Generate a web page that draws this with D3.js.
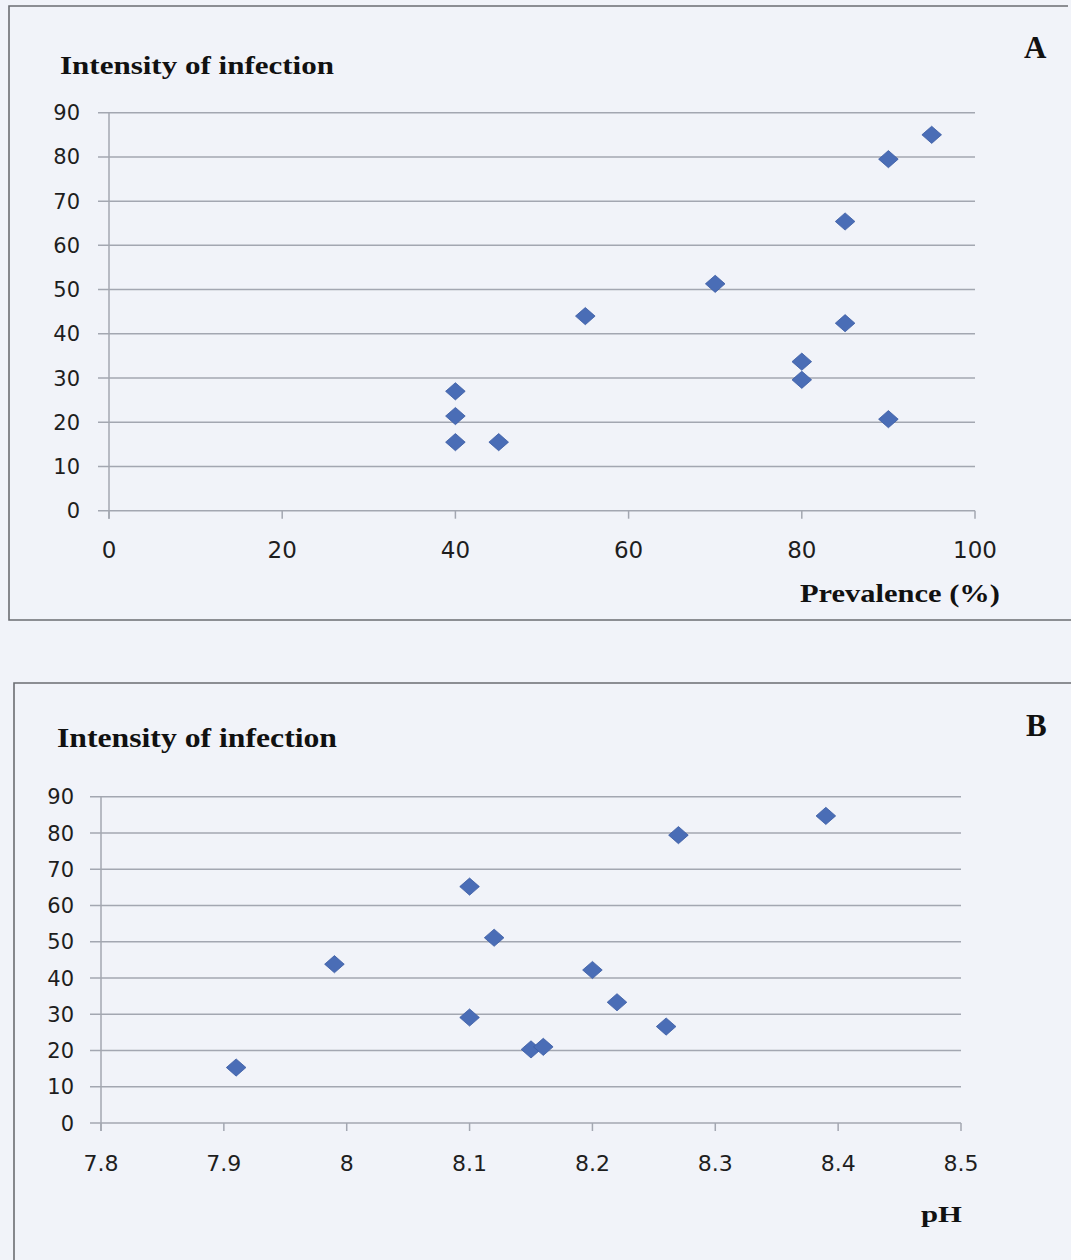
<!DOCTYPE html>
<html>
<head>
<meta charset="utf-8">
<script src="https://cdn.jsdelivr.net/npm/d3@7"></script>
<style>
  html, body { margin: 0; padding: 0; background: #f1f3f9; }
  svg { display: block; }
</style>
</head>
<body>
<svg id="chart" width="1071" height="1260"></svg>
<script>
// ---------- DATA ----------
const prevalence = [40, 40, 40, 45, 55, 70, 80, 80, 85, 85, 90, 90, 95];
const intensityA = [27, 21.4, 15.5, 15.5, 44, 51.3, 33.7, 29.6, 42.4, 65.4, 20.7, 79.5, 85];

const pH = [7.91, 7.99, 8.10, 8.10, 8.12, 8.15, 8.16, 8.20, 8.22, 8.26, 8.27, 8.39];
const intensityB = [15.3, 43.8, 65.2, 29.1, 51.1, 20.3, 21.0, 42.2, 33.3, 26.6, 79.4, 84.7];

const yTicks = [0, 10, 20, 30, 40, 50, 60, 70, 80, 90];
const xTicksA = [0, 20, 40, 60, 80, 100];
const xTicksB = [7.8, 7.9, 8.0, 8.1, 8.2, 8.3, 8.4, 8.5];

const yTitle = "Intensity of infection";
const xTitleA = "Prevalence (%)";
const xTitleB = "pH";
const panelA = "A";
const panelB = "B";

// ---------- STYLE ----------
const gridColor = "#a3a7b1";
const frameColor = "#6b6d72";
const markFill = "#4a6db6";
const markStroke = "#3b5ca3";
const tickFont = "'DejaVu Sans', Verdana, sans-serif";
const serif = "'Liberation Serif', 'Times New Roman', serif";

const svg = d3.select("#chart");

// diamond symbol slightly wider than tall
const diamond = {
  draw(ctx, size) {
    const w = 9.8, h = 8.6;
    ctx.moveTo(0, -h);
    ctx.lineTo(w, 0);
    ctx.lineTo(0, h);
    ctx.lineTo(-w, 0);
    ctx.closePath();
  }
};

function drawPanel(cfg) {
  const g = svg.append("g");
  g.append("path")
    .attr("d", cfg.frame.d)
    .attr("fill", "none")
    .attr("stroke", frameColor)
    .attr("stroke-width", 1.6);

  const x = d3.scaleLinear().domain(cfg.xDomain).range([cfg.left, cfg.right]);
  const y = d3.scaleLinear().domain([0, 90]).range([cfg.bottom, cfg.top]);

  // horizontal gridlines (with outside tick part)
  g.append("g").selectAll("line").data(cfg.yTicks).join("line")
    .attr("x1", cfg.left - 11).attr("x2", cfg.right)
    .attr("y1", d => y(d)).attr("y2", d => y(d))
    .attr("stroke", gridColor).attr("stroke-width", 1.5);

  // vertical axis line
  g.append("line")
    .attr("x1", cfg.left).attr("x2", cfg.left)
    .attr("y1", cfg.top).attr("y2", cfg.bottom + 8)
    .attr("stroke", gridColor).attr("stroke-width", 1.5);

  // x ticks
  g.append("g").selectAll("line").data(cfg.xTicks).join("line")
    .attr("x1", d => x(d)).attr("x2", d => x(d))
    .attr("y1", cfg.bottom).attr("y2", cfg.bottom + 8)
    .attr("stroke", gridColor).attr("stroke-width", 1.5);

  // y tick labels
  g.append("g").selectAll("text").data(cfg.yTicks).join("text")
    .attr("x", cfg.yLabelX)
    .attr("y", d => y(d))
    .attr("dy", "0.36em")
    .attr("text-anchor", "end")
    .attr("font-family", tickFont)
    .attr("font-size", 21)
    .attr("fill", "#1e1e1e")
    .text(d => d);

  // x tick labels
  g.append("g").selectAll("text").data(cfg.xTicks).join("text")
    .attr("x", d => x(d))
    .attr("y", cfg.xLabelY)
    .attr("text-anchor", "middle")
    .attr("font-family", tickFont)
    .attr("font-size", cfg.xLabelSize)
    .attr("fill", "#1e1e1e")
    .text(d => cfg.xFormat(d));

  // points
  g.append("g").selectAll("path").data(cfg.xs.map((v, i) => [v, cfg.ys[i]])).join("path")
    .attr("transform", d => `translate(${x(d[0])},${y(d[1])})`)
    .attr("d", d3.symbol().type(diamond).size(100))
    .attr("fill", markFill)
    .attr("stroke", markStroke)
    .attr("stroke-width", 0.8);

  // titles
  g.append("text")
    .attr("x", cfg.yTitle.x).attr("y", cfg.yTitle.y)
    .attr("font-family", serif).attr("font-weight", "bold")
    .attr("font-size", cfg.yTitle.size)
    .attr("textLength", cfg.yTitle.len).attr("lengthAdjust", "spacingAndGlyphs")
    .attr("fill", "#111")
    .text(yTitle);

  g.append("text")
    .attr("x", cfg.xTitle.x).attr("y", cfg.xTitle.y)
    .attr("font-family", serif).attr("font-weight", "bold")
    .attr("font-size", cfg.xTitle.size)
    .attr("textLength", cfg.xTitle.len).attr("lengthAdjust", "spacingAndGlyphs")
    .attr("fill", "#111")
    .text(cfg.xTitle.text);

  g.append("text")
    .attr("x", cfg.panel.x).attr("y", cfg.panel.y)
    .attr("font-family", serif).attr("font-weight", "bold")
    .attr("font-size", 31)
    .attr("fill", "#111")
    .text(cfg.panel.text);
}

drawPanel({
  frame: { d: "M1068,6 L9,6 L9,620 L1071,620" },
  xDomain: [0, 100], left: 109, right: 975, top: 112.7, bottom: 510.7,
  yTicks: yTicks, xTicks: xTicksA, xs: prevalence, ys: intensityA,
  yLabelX: 80, xLabelY: 558, xLabelSize: 23, xFormat: d => d,
  yTitle: { x: 60, y: 74, size: 26, len: 274 },
  xTitle: { x: 800, y: 602, size: 26, len: 200, text: xTitleA },
  panel: { x: 1024, y: 58, text: panelA }
});

drawPanel({
  frame: { d: "M1071,683 L14,683 L14,1262" },
  xDomain: [7.8, 8.5], left: 101, right: 961, top: 796.7, bottom: 1123,
  yTicks: yTicks, xTicks: xTicksB, xs: pH, ys: intensityB,
  yLabelX: 74, xLabelY: 1171, xLabelSize: 22, xFormat: d => (Math.round(d * 10) / 10).toString(),
  yTitle: { x: 57, y: 747, size: 27, len: 280 },
  xTitle: { x: 921, y: 1222, size: 24, len: 41, text: xTitleB },
  panel: { x: 1026, y: 736, text: panelB }
});
</script>
</body>
</html>
